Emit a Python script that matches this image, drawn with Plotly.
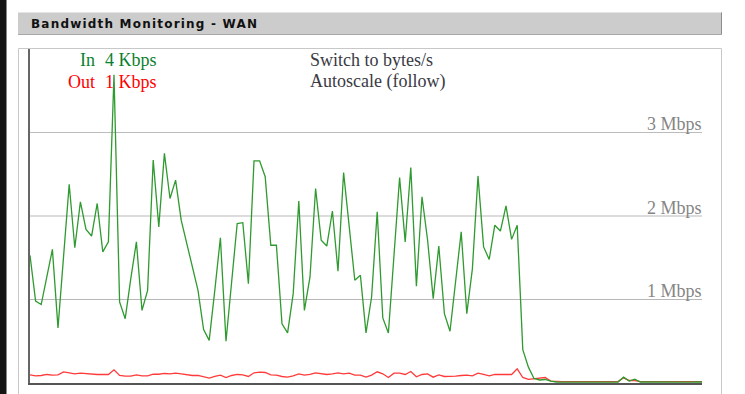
import plotly.graph_objects as go

# ---------------- data (Mbps, one sample per step) ----------------
in_mbps = [1.53, 0.98, 0.94, 1.27, 1.60, 0.66, 1.47, 2.38, 1.62, 2.17,
           1.84, 1.76, 2.15, 1.57, 1.69, 3.69, 0.97, 0.77, 1.25, 1.69,
           0.87, 1.11, 2.67, 1.87, 2.75, 2.21, 2.43, 1.95, 1.67, 1.39,
           1.11, 0.64, 0.51, 1.11, 1.74, 0.50, 1.19, 1.91, 1.92, 1.19,
           2.66, 2.66, 2.47, 1.65, 1.65, 0.71, 0.60, 1.07, 2.18, 0.87,
           1.27, 2.33, 1.71, 1.64, 2.06, 1.34, 2.52, 1.88, 1.23, 1.29,
           0.60, 1.03, 2.05, 0.78, 0.60, 1.53, 2.46, 1.69, 2.58, 1.16,
           2.23, 1.71, 1.01, 1.64, 0.83, 0.62, 1.20, 1.81, 0.83, 1.37,
           2.48, 1.63, 1.48, 1.89, 1.82, 2.12, 1.72, 1.89, 0.40, 0.19,
           0.054, 0.036, 0.042, 0.022, 0.012, 0.011, 0.012, 0.013, 0.012, 0.011,
           0.012, 0.012, 0.013, 0.012, 0.011, 0.012, 0.070, 0.024, 0.046, 0.012,
           0.011, 0.012, 0.012, 0.013, 0.012, 0.011, 0.012, 0.012, 0.011, 0.012,
           0.012]
out_mbps = [0.098, 0.086, 0.090, 0.102, 0.094, 0.098, 0.134, 0.118, 0.110, 0.118,
            0.110, 0.105, 0.102, 0.102, 0.102, 0.158, 0.090, 0.082, 0.082, 0.098,
            0.086, 0.086, 0.105, 0.105, 0.114, 0.110, 0.118, 0.110, 0.098, 0.090,
            0.090, 0.078, 0.058, 0.078, 0.094, 0.066, 0.090, 0.102, 0.098, 0.078,
            0.122, 0.130, 0.126, 0.098, 0.094, 0.078, 0.070, 0.086, 0.110, 0.094,
            0.102, 0.122, 0.110, 0.102, 0.110, 0.122, 0.110, 0.118, 0.094, 0.094,
            0.070, 0.094, 0.134, 0.110, 0.066, 0.118, 0.118, 0.102, 0.138, 0.074,
            0.102, 0.110, 0.070, 0.098, 0.078, 0.078, 0.082, 0.090, 0.094, 0.086,
            0.118, 0.102, 0.086, 0.102, 0.102, 0.102, 0.102, 0.170, 0.066, 0.044,
            0.050, 0.054, 0.066, 0.022, 0.016, 0.016, 0.017, 0.016, 0.016, 0.017,
            0.016, 0.016, 0.016, 0.017, 0.016, 0.016, 0.062, 0.030, 0.030, 0.016,
            0.016, 0.017, 0.016, 0.016, 0.016, 0.016, 0.017, 0.016, 0.016, 0.016,
            0.016]
samples = list(range(len(in_mbps)))

grid_values = [1, 2, 3]
grid_labels = ["1 Mbps", "2 Mbps", "3 Mbps"]
grid_colors = ["#b8b8b8", "#dcdcdc", "#bcbcbc"]
grid_widths = [1, 2, 1]

title_text = "Bandwidth Monitoring - WAN"
legend_names = ["In", "Out"]
legend_values = ["4 Kbps", "1 Kbps"]
legend_colors = ["#0a7f2e", "#ff0000"]
links = ["Switch to bytes/s", "Autoscale (follow)"]

# ---------------- layout geometry ----------------
W, H = 745, 394
L, R, T, B = 30, 43, 49, 11
PW = W - L - R
PH = H - T - B


def px(p):
    return (p - L) / PW


def py(p):
    return (H - B - p) / PH


fig = go.Figure()
fig.add_trace(go.Scatter(x=samples, y=out_mbps, mode="lines",
                         line=dict(color="#ff3a3a", width=1.3),
                         hoverinfo="skip", showlegend=False))
fig.add_trace(go.Scatter(x=samples, y=in_mbps, mode="lines",
                         line=dict(color="#2f9a2f", width=1.3),
                         hoverinfo="skip", showlegend=False))

shapes = [
    # dark strip at left edge of page
    dict(type="rect", xref="paper", yref="paper", x0=px(0), x1=px(6.5),
         y0=py(H + 5), y1=py(-5), fillcolor="#141414", line=dict(width=0), layer="below"),
    # title bar
    dict(type="rect", xref="paper", yref="paper", x0=px(18), x1=px(722),
         y0=py(35), y1=py(12.5), fillcolor="#cccccc", line=dict(width=0), layer="below"),
    dict(type="line", xref="paper", yref="paper", x0=px(721.5), x1=px(721.5),
         y0=py(35), y1=py(12.5), line=dict(color="#8c8c8c", width=1), layer="below"),
    dict(type="line", xref="paper", yref="paper", x0=px(18), x1=px(722),
         y0=py(34.5), y1=py(34.5), line=dict(color="#a8a8a8", width=1), layer="below"),
    # chart box
    dict(type="rect", xref="paper", yref="paper", x0=px(18.5), x1=px(721.5),
         y0=py(H + 10), y1=py(48.5), fillcolor="white",
         line=dict(color="#c8c8c8", width=1), layer="below"),
]
for v, c, w in zip(grid_values, grid_colors, grid_widths):
    shapes.append(dict(type="line", xref="x", yref="y", x0=samples[0], x1=samples[-1],
                       y0=v, y1=v, line=dict(color=c, width=w), layer="below"))

serif = "Liberation Serif, Times New Roman, serif"
ann = [
    dict(x=px(29), y=py(24), xref="paper", yref="paper", xanchor="left", yanchor="middle",
         text='<span style="letter-spacing:1.2px">' + title_text + "</span>",
         showarrow=False, font=dict(family="DejaVu Sans", size=12, color="#111111", weight="bold")),
]
for i, (n, v, c) in enumerate(zip(legend_names, legend_values, legend_colors)):
    yy = py(60 + 22 * i)
    ann.append(dict(x=px(97), y=yy, xref="paper", yref="paper", xanchor="right", yanchor="middle",
                    text=n, showarrow=False, font=dict(family=serif, size=18, color=c)))
    ann.append(dict(x=px(158.5), y=yy, xref="paper", yref="paper", xanchor="right", yanchor="middle",
                    text=v, showarrow=False, font=dict(family=serif, size=18, color=c)))
for i, t in enumerate(links):
    ann.append(dict(x=px(308), y=py(60 + 22 * i), xref="paper", yref="paper",
                    xanchor="left", yanchor="middle", text=t, showarrow=False,
                    font=dict(family=serif, size=18, color="#3a3a44")))
for v, t in zip(grid_values, grid_labels):
    ann.append(dict(x=px(703), y=v, xref="paper", yref="y", xanchor="right", yanchor="bottom",
                    yshift=-2.5, text=t, showarrow=False, borderpad=0,
                    font=dict(family=serif, size=18, color="#858585")))

fig.update_layout(
    width=W, height=H,
    margin=dict(l=L, r=R, t=T, b=B, pad=0),
    paper_bgcolor="white", plot_bgcolor="white",
    shapes=shapes, annotations=ann, showlegend=False,
    xaxis=dict(range=[samples[0], samples[-1]], showgrid=False, zeroline=False,
               showticklabels=False, ticks="", showline=True, linecolor="#555555", linewidth=2),
    yaxis=dict(range=[0, 4], showgrid=False, zeroline=False, showticklabels=False,
               ticks="", showline=True, linecolor="#666666", linewidth=1.5),
)

fig.write_html("out.html")
